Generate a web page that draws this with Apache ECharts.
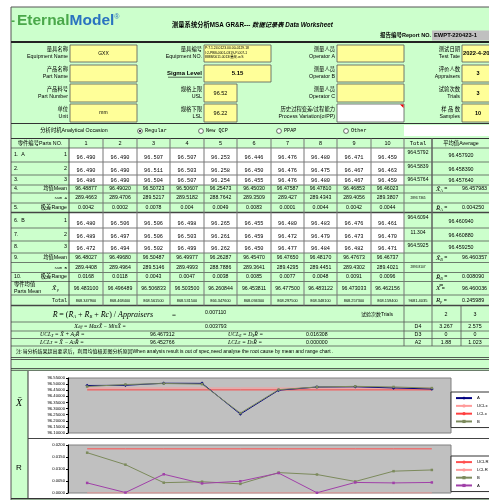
<!DOCTYPE html>
<html><head><meta charset="utf-8">
<script src="https://cdn.jsdelivr.net/npm/echarts@6/dist/echarts.min.js"></script>
<style>html,body{margin:0;padding:0;background:#fff;overflow:hidden}#c{width:489px;height:500px}</style>
</head><body><div id="c"></div>
<script>
// ---------------- data ----------------
const partNos = ['1','2','3','4','5','6','7','8','9','10'];
const trialA1 = ['96.490','96.490','96.507','96.507','96.253','96.446','96.476','96.480','96.471','96.459'];
const trialA2 = ['96.490','96.490','96.511','96.503','96.258','96.450','96.476','96.475','96.467','96.463'];
const trialA3 = ['96.486','96.490','96.504','96.507','96.254','96.455','96.476','96.480','96.467','96.459'];
const trialB1 = ['96.480','96.506','96.506','96.498','96.265','96.455','96.480','96.483','96.476','96.461'];
const trialB2 = ['96.489','96.497','96.506','96.503','96.261','96.459','96.472','96.479','96.473','96.470'];
const trialB3 = ['96.472','96.494','96.502','96.499','96.262','96.450','96.477','96.484','96.482','96.471'];
const meanA = [96.48877,96.49020,96.50723,96.50607,96.25473,96.45030,96.47587,96.47810,96.46853,96.46023];
const meanB = [96.48027,96.49680,96.50487,96.49977,96.26287,96.45470,96.47650,96.48170,96.47673,96.46737];
const sumA = ['289.4663','289.4706','289.5217','289.5182','288.7642','289.3509','289.427','289.4343','289.4056','289.3807'];
const sumB = ['289.4408','289.4964','289.5146','289.4993','288.7886','289.3641','289.4295','289.4451','289.4302','289.4021'];
const rangeA = [0.0042,0.0002,0.0078,0.004,0.0049,0.0083,0.0001,0.0044,0.0042,0.0044];
const rangeB = [0.0168,0.0118,0.0043,0.0047,0.0038,0.0085,0.0077,0.0048,0.0091,0.0096];
const partsMean = ['96.483100','96.496489','96.506833','96.503500','96.260844','96.453811','96.477500','96.483122','96.473033','96.462156'];
const partsTotal = ['868.347900','868.468400','868.561500','868.531500','866.347600','868.094300','868.297500','868.348100','868.257300','868.159400'];
const totalsA = ['964.5792','964.5839','964.5764'];
const avgsA = ['96.457920','96.458390','96.457640'];
const totalsB = ['964.6094','11.304','964.5925'];
const avgsB = ['96.460940','96.460880','96.459250'];
const uclXLine = [96.467312,96.467312,96.467312,96.467312,96.467312,96.467312,96.467312,96.467312,96.467312,96.467312];
const lclXLine = [96.452766,96.452766,96.452766,96.452766,96.452766,96.452766,96.452766,96.452766,96.452766,96.452766];
const uclRLine = [0.0184,0.0184,0.0184,0.0184,0.0184,0.0184,0.0184,0.0184,0.0184,0.0184];
const lclRLine = [0,0,0,0,0,0,0,0,0,0];
const trialsHdr = ['2','3'];
const d4 = ['3.267','2.575'];
const d3 = ['0','0'];
const a2 = ['1.88','1.023'];

// ---------------- drawing helpers ----------------
const FS = 'Liberation Sans, Noto Sans CJK SC, sans-serif';
const MONO = 'Liberation Mono, DejaVu Sans Mono, monospace';
const SERIF = 'Liberation Serif, DejaVu Serif, serif';
const GREEN = '#ccffcc', YEL = '#ffff99';
const G = [];
function R(x,y,w,h,fill,stroke,lw,z){G.push({type:'rect',z:z||0,silent:true,shape:{x:x,y:y,width:w,height:h},style:{fill:fill||'none',stroke:stroke||null,lineWidth:lw||0}});}
function L(x1,y1,x2,y2,c,w){G.push({type:'line',z:1,silent:true,shape:{x1:x1,y1:y1,x2:x2,y2:y2},style:{stroke:c||'#333',lineWidth:w||0.8}});}
function T(x,y,s,o){o=o||{};const a=o.a||'left';const st={text:s,fontSize:o.fs||5.5,fontFamily:o.ff||FS,fontWeight:o.fw||'normal',fontStyle:o.it?'italic':'normal',fill:o.c||'#000',align:a,verticalAlign:'middle',textAlign:a,textVerticalAlign:'middle'};if(o.rich)st.rich=o.rich;G.push({type:'text',z:3,silent:true,x:x,y:y,scaleX:o.sx||1,style:st});}

// background
R(11,7,490,493,GREEN,'#555',1);
// logo + title
T(11,22,'-',{fs:12,fw:'bold',c:'#4aa84a'});
T(17,21,'{g|Eternal}{b|Model}{r|®}',{fs:15.5,fw:'bold',rich:{g:{fontSize:15.5,fontWeight:'bold',fill:'#4aa84a',fontFamily:FS},b:{fontSize:15.5,fontWeight:'bold',fill:'#2a73c0',fontFamily:FS},r:{fontSize:7,fill:'#2a73c0',verticalAlign:'top',fontFamily:FS}}});
T(172,25,'{a|测量系统分析MSA GR&R--- }{b|数据记录表 Data Worksheet}',{rich:{a:{fontSize:6.3,fontWeight:'bold',fontFamily:FS},b:{fontSize:6.3,fontWeight:'bold',fontStyle:'italic',fontFamily:FS}}});
T(431,35.5,'报告编号Report NO.',{a:'right',fs:5.5,fw:'bold'});
R(432,30.5,60,10,'#c0c0c0');
T(434,35.5,'EWPT-220423-1',{fs:5.8,fw:'bold'});
L(11,42,489,42,'#222',2);

// info block
const infoRows = [[45,62],[65,82],[84,102],[104,122]];
const info1 = [['量具名称','Equipment Name'],['产品名称','Part Name'],['产品料号','Part Number'],['单位','Unit']];
const infoV1 = ['GXX','','','mm'];
const info3 = [['测量人员','Operator A'],['测量人员','Operator B'],['测量人员','Operator C'],['历史过程变差/过程能力','Process Variation(σ/PP)']];
const info4 = [['测试日期','Test Tate'],['评价人数','Appraisers'],['试验次数','Trials'],['样 品 数','Samples']];
const infoV4 = ['2022-4-20','3','3','10'];
infoRows.forEach(function(r,i){
  const y0=r[0],y1=r[1],h=y1-y0,ym=(y0+y1)/2;
  T(68,ym-3.5,info1[i][0],{a:'right',fs:5.3});T(68,ym+3.5,info1[i][1],{a:'right',fs:5.3});
  R(70,y0,67,h,YEL,'#555',0.8);
  if(infoV1[i])T(103.5,ym,infoV1[i],{a:'center',fs:5});
  T(335,ym-3.5,info3[i][0],{a:'right',fs:5.3});T(335,ym+3.5,info3[i][1],{a:'right',fs:5.3});
  R(337,y0,67,h,i===3?'#fff':YEL,'#555',0.8);
  T(460,ym-3.5,info4[i][0],{a:'right',fs:5.3});T(460,ym+3.5,info4[i][1],{a:'right',fs:5.3});
  R(462,y0,40,h,YEL,'#555',0.8);
  T(i===0?463:478,ym,infoV4[i],{a:i===0?'left':'center',fs:i===0?5.8:5.5,fw:'bold'});
});
G.push({type:'polygon',z:2,silent:true,shape:{points:[[400,104.5],[403.5,104.5],[403.5,108]]},style:{fill:'#e00'}});
// group 2
T(202,50,'量具编号',{a:'right',fs:5.3});T(202,57,'Equipment NO.',{a:'right',fs:5.3});
R(204,45,67,17,YEL,'#555',0.8);
T(205,48.5,'P:7.1.24.0123.00.00-0129.18',{fs:3.4});
T(205,53,'I:2-PBB-0001-0319-P-007-1',{fs:3.4});
T(205,57.5,'8888/0011.0013/量规.vcS',{fs:3.4});
T(202,73.5,'Sigma Level',{a:'right',fs:6,fw:'bold'});
L(168,77.2,202,77.2,'#000',0.6);
R(204,65,67,17,YEL,'#555',0.8);
T(237.5,73.5,'5.15',{a:'center',fs:6,fw:'bold'});
T(202,89.5,'规格上限',{a:'right',fs:5.3});T(202,97,'USL',{a:'right',fs:5.3});
R(204,84,33,18,YEL,'#555',0.8);T(220.5,93,'96.52',{a:'center',fs:5.5});
T(202,109.5,'规格下限',{a:'right',fs:5.3});T(202,117,'LSL',{a:'right',fs:5.3});
R(204,104,33,18,YEL,'#555',0.8);T(220.5,113,'96.22',{a:'center',fs:5.5});

// analytical occasion
L(11,123.5,489,123.5,'#333',1);
T(74,131,'分析时机Analytical Occasion',{a:'center',fs:5.3});
const occ = [['Regular',140,true],['New QCP',201,false],['PPAP',279,false],['Other',346,false]];
occ.forEach(function(o){
  G.push({type:'circle',z:2,silent:true,shape:{cx:o[1],cy:131,r:2.4},style:{fill:'#fff',stroke:'#333',lineWidth:0.7}});
  if(o[2])G.push({type:'circle',z:3,silent:true,shape:{cx:o[1],cy:131,r:1},style:{fill:'#000'}});
  T(o[1]+5,131,o[0],{ff:MONO,fs:5.2});
});
R(404,125,90,11,'#fff');
L(11,138.5,489,138.5,'#333',1);

// table
const colX=[69,103,137,170,204,237,271,304,337,371,404,432];
function cc(i){return (colX[i]+colX[i+1])/2;}
T(40,143.5,'零件编号Parts NO.',{a:'center',fs:5.3});
partNos.forEach(function(p,i){T(cc(i),143.5,p,{a:'center',fs:5.5});});
T(418,143.5,'Total',{a:'center',ff:MONO,fs:5.5});
T(461,143.5,'平均值Average',{a:'center',fs:5.3});

const rowLines=[148,162,175,185,193,203,212.5,228,241,253,262.5,272.5,281.5,295,305.5];
[[148,185],[212.5,253]].forEach(function(b){R(69,b[0],335,b[1]-b[0],'#fff');});
function dataRow(y0,y1,vals,lab,labR){
  const ty=y1-4.5;
  vals.forEach(function(v,i){T(cc(i),ty,v,{a:'center',ff:MONO,fs:5.3});});
  T(14,(y0+y1)/2,lab,{fs:5.3});T(67,(y0+y1)/2,labR,{a:'right',fs:5.3});
}
dataRow(148,162,trialA1,'1.  A','1');
dataRow(162,175,trialA2,'2.','2');
dataRow(175,185,trialA3,'3.','3');
dataRow(212.5,228,trialB1,'6.  B','1');
dataRow(228,241,trialB2,'7.','2');
dataRow(241,253,trialB3,'8.','3');
function statRow(y0,y1,vals,lab,labR,mono){
  const ym=(y0+y1)/2;
  vals.forEach(function(v,i){T(cc(i),ym,v,{a:'center',fs:5.2});});
  if(lab)T(14,ym,lab,{fs:5.3});
  T(67,ym,labR,mono?{a:'right',ff:MONO,fs:4.2}:{a:'right',fs:5.3});
}
statRow(185,193,meanA.map(function(v){return v.toFixed(5);}),'4.','均值Mean');
statRow(193,203,sumA,'','Sum A',true);
statRow(203,212.5,rangeA.map(String),'5.','极差Range');
statRow(253,262.5,meanB.map(function(v){return v.toFixed(5);}),'9.','均值Mean');
statRow(262.5,272.5,sumB,'','Sum B',true);
statRow(272.5,281.5,rangeB.map(String),'10.','极差Range');
partsMean.forEach(function(v,i){T(cc(i),288.5,v,{a:'center',fs:5.2});});
T(14,285,'零件均值',{fs:5.3});T(14,291.5,'Parts Mean',{fs:5.3});
T(52,288,'X\u0304',{ff:SERIF,it:true,fs:7});T(57,290,'p',{ff:SERIF,it:true,fs:4});
partsTotal.forEach(function(v,i){T(cc(i),300.5,v,{a:'center',fs:3.9});});
T(67,300.5,'Total',{a:'right',ff:MONO,fs:5});
[[148,162],[162,175],[175,185]].forEach(function(r,i){T(418,r[0]+5,totalsA[i],{a:'center',fs:5});T(461,(r[0]+r[1])/2+1,avgsA[i],{a:'center',fs:5.3});});
[[212.5,228],[228,241],[241,253]].forEach(function(r,i){T(418,r[0]+5,totalsB[i],{a:'center',fs:5});T(461,(r[0]+r[1])/2+1,avgsB[i],{a:'center',fs:5.3});});
T(418,198,'2893.7365',{a:'center',fs:3.2});
T(418,267.5,'2893.8107',{a:'center',fs:3.2});
T(418,300.5,'9681.4035',{a:'center',fs:4});
const sub={x:{fontSize:7,fontFamily:SERIF,fontStyle:'italic'},s:{fontSize:4,fontFamily:SERIF,fontStyle:'italic',verticalAlign:'bottom'},t:{fontSize:5.3,fontFamily:FS}};
function stat(y,letter,sb,val){T(436,y,'{x|'+letter+'}{s|'+sb+'}{t| =}',{rich:sub});T(462,y,val,{fs:5.3});}
stat(189,'X\u0304','A','96.457983');
stat(208,'R\u0304','A','0.004250');
stat(258,'X\u0304','B','96.460357');
stat(277,'R\u0304','B','0.008090');
stat(288.5,'X\u033F','','96.460036');
stat(300.5,'R','p','0.245989');
rowLines.forEach(function(y){L(11,y,489,y,'#444',(y===212.5||y===305.5)?1.6:0.7);});
colX.forEach(function(x){L(x,138.5,x,305.5,x===69?'#333':'#777',x===69?0.9:1);});
L(432,138.5,432,305.5,'#555',1);

// formula area
const fr=[305.5,322,331,338.5,346];
T(103,315,'{i|R\u0304} {n|= (}{i|R\u0304}{s|A}{n| + }{i|R\u0304}{s|B}{n| + }{i|R\u0304c}{n|) / }{i|Appraisers}',{rich:{i:{fontSize:8,fontFamily:SERIF,fontStyle:'italic'},n:{fontSize:8,fontFamily:SERIF},s:{fontSize:4.5,fontFamily:SERIF,fontStyle:'italic',verticalAlign:'bottom'}},a:'center'});
T(172,315,'=',{fs:7,ff:SERIF});
T(205,313,'0.007110',{fs:5.2});
T(100,326.5,'{i|X}{s|diff}{n| = MaxX\u0304 \u2212 MinX\u0304 =}',{a:'center',rich:{i:{fontSize:6,fontFamily:SERIF,fontStyle:'italic'},n:{fontSize:5.5,fontFamily:SERIF,fontStyle:'italic'},s:{fontSize:3.5,fontFamily:SERIF,fontStyle:'italic',verticalAlign:'bottom'}}});
T(205,327,'0.003793',{fs:5.2});
const frich={i:{fontSize:5.8,fontFamily:SERIF,fontStyle:'italic'},s:{fontSize:3.5,fontFamily:SERIF,fontStyle:'italic',verticalAlign:'bottom'}};
T(40,334.8,'{i|UCL}{s|X}{i| = X\u0304 + A}{s|2}{i|R\u0304 =}',{rich:frich});
T(150,334.8,'96.467312',{fs:5.2});
T(40,342.3,'{i|LCL}{s|X}{i| = X\u0304 \u2212 A}{s|2}{i|R\u0304 =}',{rich:frich});
T(150,342.3,'96.452766',{fs:5.2});
T(228,334.8,'{i|UCL}{s|R}{i| = D}{s|4}{i|R\u0304 =}',{rich:frich});
T(306,334.8,'0.016308',{fs:5.2});
T(228,342.3,'{i|LCL}{s|R}{i| = D}{s|3}{i|R\u0304 =}',{rich:frich});
T(306,342.3,'0.000000',{fs:5.2});
T(393,315,'试验次数Trials',{a:'right',fs:5});
T(446,315,trialsHdr[0],{a:'center',fs:5.3});T(475,315,trialsHdr[1],{a:'center',fs:5.3});
[['D4',d4],['D3',d3],['A2',a2]].forEach(function(r,i){
  const y=(fr[i+1]+fr[i+2])/2;
  T(418,y,r[0],{a:'center',fs:5.3});T(446,y,r[1][0],{a:'center',fs:5.3});T(475,y,r[1][1],{a:'center',fs:5.3});
});
[322,331,338.5,346].forEach(function(y){L(11,y,489,y,'#444',0.7);});
[404,432,461].forEach(function(x){L(x,305.5,x,346,'#555',0.8);});
T(16,352,'注:当分析结果超出要求后，利用均值极差图分析原因When analysis result is out of spec,need analyse the root cause by mean and range chart .',{fs:5});
L(11,357.5,489,357.5,'#333',0.8);L(11,359.5,489,359.5,'#333',0.8);
L(11,368.5,489,368.5,'#333',0.8);L(11,370.3,489,370.3,'#333',0.8);
R(28,371,466,127,'#fff');
L(28,371,28,498,'#333',1);
L(28,438.5,489,438.5,'#444',1);
L(11,498.5,489,498.5,'#333',1);
T(19,403,'X\u0304',{a:'center',ff:SERIF,it:true,fs:10});
T(19,468,'R',{a:'center',fs:8});

// ---------------- chart ----------------
const chart = echarts.init(document.getElementById('c'),null,{renderer:'canvas'});
const axisLab = {fontSize:4.2,color:'#000',margin:3,fontFamily:FS};
const legendBase = {orient:'vertical',left:451,itemWidth:16,itemHeight:4,itemGap:3.6,padding:[4,3,4,4],backgroundColor:'#fff',borderColor:'#333',borderWidth:1,textStyle:{fontSize:4.2,color:'#000',fontFamily:FS},z:10,selectedMode:false};
chart.setOption({
  animation:false,
  graphic:{elements:G},
  grid:[
    {left:68,top:378,width:383,height:55,show:true,backgroundColor:'#c0c0c0',borderColor:'#808080',borderWidth:1,z:3},
    {left:68,top:445,width:383,height:48,show:true,backgroundColor:'#c0c0c0',borderColor:'#808080',borderWidth:1,z:3}
  ],
  xAxis:[
    {type:'category',gridIndex:0,data:partNos,boundaryGap:true,axisLabel:{show:false},axisTick:{show:false},axisLine:{show:false},z:4},
    {type:'category',gridIndex:1,data:partNos,boundaryGap:true,axisLabel:{show:false},axisTick:{show:false},axisLine:{show:false},z:4}
  ],
  yAxis:[
    {type:'value',gridIndex:0,min:96.10,max:96.55,interval:0.05,axisLabel:Object.assign({formatter:function(v){return v.toFixed(5);}},axisLab),axisTick:{show:true,length:2,lineStyle:{color:'#000'}},axisLine:{show:true,lineStyle:{color:'#000',width:1}},splitLine:{show:false},z:4},
    {type:'value',gridIndex:1,min:0,max:0.02,interval:0.005,axisLabel:Object.assign({formatter:function(v){return v.toFixed(4);}},axisLab),axisTick:{show:true,length:2,lineStyle:{color:'#000'}},axisLine:{show:true,lineStyle:{color:'#000',width:1}},splitLine:{show:false},z:4}
  ],
  legend:[
    Object.assign({top:392,data:['A','UCLx','LCLx','B']},legendBase),
    Object.assign({top:456,data:['UCLR','LCLR','B ','A ']},legendBase)
  ],
  series:[
    {name:'A',type:'line',xAxisIndex:0,yAxisIndex:0,data:meanA,color:'#000080',symbol:'diamond',symbolSize:3.5,lineStyle:{width:1},z:6},
    {name:'UCLx',type:'line',xAxisIndex:0,yAxisIndex:0,data:uclXLine,color:'#ff9a9a',symbol:'none',lineStyle:{width:1},z:5},
    {name:'LCLx',type:'line',xAxisIndex:0,yAxisIndex:0,data:lclXLine,color:'#ff4040',symbol:'none',lineStyle:{width:1},z:5},
    {name:'B',type:'line',xAxisIndex:0,yAxisIndex:0,data:meanB,color:'#7c8a5c',symbol:'rect',symbolSize:2.5,lineStyle:{width:1},z:6},
    {name:'UCLR',type:'line',xAxisIndex:1,yAxisIndex:1,data:uclRLine,color:'#ff5050',symbol:'none',lineStyle:{width:1},z:5},
    {name:'LCLR',type:'line',xAxisIndex:1,yAxisIndex:1,data:lclRLine,color:'#ff9a9a',symbol:'none',lineStyle:{width:1},z:5},
    {name:'B ',type:'line',xAxisIndex:1,yAxisIndex:1,data:rangeB,color:'#7c8a5c',symbol:'rect',symbolSize:2.5,lineStyle:{width:1},z:6},
    {name:'A ',type:'line',xAxisIndex:1,yAxisIndex:1,data:rangeA,color:'#a040a8',symbol:'rect',symbolSize:2.5,lineStyle:{width:1},z:6}
  ]
});
</script></body></html>
